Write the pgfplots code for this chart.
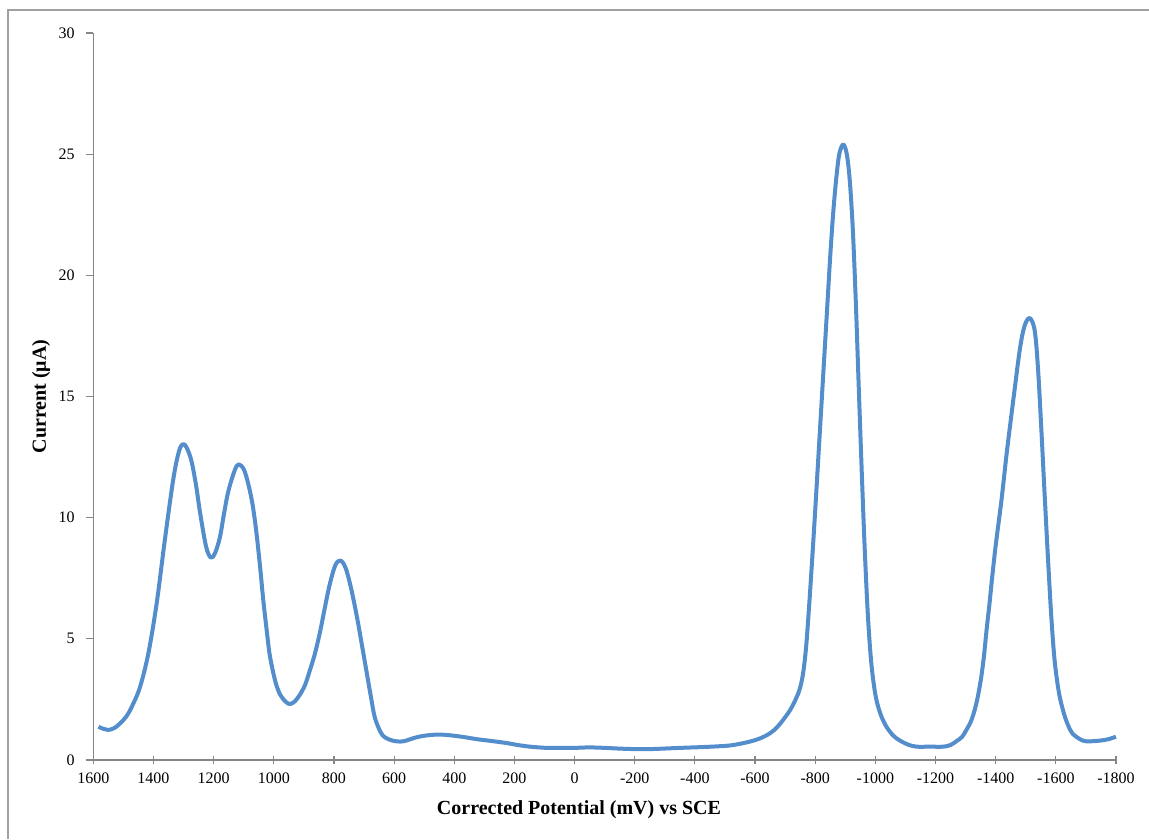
\documentclass[border=0pt]{standalone}
\usepackage{pgfplots}
\pgfplotsset{compat=1.18}
\usepackage{fontspec}
\setmainfont{Liberation Serif}
\definecolor{curve}{RGB}{83,141,204}
\definecolor{axgray}{RGB}{134,134,134}
\definecolor{bordergray}{RGB}{160,160,160}
\begin{document}
\begin{tikzpicture}
\useasboundingbox (0pt,0pt) rectangle (861.75pt,629.25pt);
\draw[bordergray,line width=1.2pt] (6pt,0pt) -- (6pt,621.75pt) -- (861.75pt,621.75pt);
\begin{axis}[
  at={(70pt,59.25pt)}, anchor=south west,
  scale only axis, width=767pt, height=545.25pt,
  xmin=-1800, xmax=1600, x dir=reverse,
  ymin=0, ymax=30,
  xtick={-1800,-1600,...,1600},
  ytick={0,5,...,30},
  axis x line*=bottom, axis y line*=left,
  axis line style={axgray, line width=0.9pt},
  x axis line style={-}, y axis line style={-},
  tick style={axgray, line width=0.9pt},
  xtick align=center, ytick align=outside,
  major tick length=5.5pt,
  /pgf/number format/assume math mode=true,
  /pgf/number format/1000 sep={},
  tick label style={font=\fontsize{12}{14}\selectfont},
  xticklabel style={yshift=-3pt},
  yticklabel style={xshift=-5pt},
  clip=false,
]
\addplot[curve, line width=3pt, smooth, tension=0.55, line join=round] coordinates {
(1583,1.37)(1565,1.28)(1550,1.24)(1530,1.32)(1511,1.51)(1490,1.8)(1472,2.2)
(1445,3.0)(1417,4.4)(1389,6.5)(1362,9.1)(1334,11.6)(1315,12.75)(1301,13.04)
(1288,12.85)(1273,12.3)(1258,11.3)(1245,10.2)(1225,8.8)(1209,8.35)(1195,8.55)
(1179,9.2)(1165,10.2)(1151,11.1)(1130,11.95)(1117,12.2)(1100,12.0)(1085,11.4)
(1070,10.5)(1057,9.3)(1045,7.9)(1035,6.6)(1024,5.4)(1013,4.3)(995,3.25)(979,2.7)
(960,2.4)(946,2.31)(930,2.42)(913,2.7)(896,3.1)(880,3.7)(863,4.4)(846,5.3)
(830,6.3)(813,7.3)(795,8.05)(778,8.23)(762,7.95)(747,7.3)(733,6.5)(719,5.6)
(705,4.6)(691,3.6)(677,2.6)(664,1.75)(645,1.15)(630,0.93)(605,0.8)(580,0.76)
(560,0.8)(536,0.9)(510,0.98)(480,1.03)(450,1.05)(414,1.02)(370,0.95)(325,0.86)
(280,0.79)(226,0.7)(190,0.62)(148,0.55)(93,0.5)(50,0.5)(0,0.5)(-49,0.52)
(-100,0.5)(-150,0.47)(-200,0.45)(-250,0.45)(-294,0.47)(-350,0.5)(-417,0.53)
(-470,0.56)(-517,0.6)(-550,0.67)(-580,0.75)(-610,0.86)(-640,1.03)(-665,1.25)
(-690,1.6)(-716,2.05)(-735,2.5)(-749,2.95)(-760,3.6)(-770,4.7)(-780,6.4)
(-790,8.3)(-800,10.3)(-810,12.4)(-820,14.5)(-830,16.6)(-840,18.7)(-850,20.8)
(-860,22.6)(-870,24.0)(-880,25.0)(-893,25.4)(-905,25.0)(-915,23.9)(-925,21.9)
(-935,18.9)(-945,15.3)(-955,11.8)(-965,8.6)(-975,6.0)(-985,4.2)(-995,3.1)
(-1005,2.4)(-1020,1.8)(-1038,1.35)(-1060,1.0)(-1082,0.8)(-1110,0.63)
(-1137,0.55)(-1180,0.55)(-1226,0.55)(-1250,0.62)(-1270,0.78)(-1288,0.95)
(-1303,1.25)(-1318,1.6)(-1331,2.1)(-1342,2.7)(-1353,3.5)(-1362,4.4)(-1370,5.4)
(-1379,6.4)(-1388,7.5)(-1400,8.85)(-1420,10.8)(-1437,12.7)(-1459,14.9)
(-1481,17.0)(-1497,17.95)(-1514,18.23)(-1530,17.7)(-1541,16.1)(-1552,13.6)
(-1563,10.9)(-1574,8.3)(-1585,5.9)(-1596,4.1)(-1610,2.8)(-1625,2.0)(-1640,1.45)
(-1655,1.1)(-1680,0.86)(-1702,0.77)(-1747,0.8)(-1775,0.86)(-1800,0.96)
};
\end{axis}
\node[font=\fontsize{15}{18}\selectfont\bfseries] at (434.25pt,21.75pt) {Corrected Potential (mV) vs SCE};
\node[font=\fontsize{15}{18}\selectfont\bfseries, rotate=90] at (30.75pt,331.9pt) {Current (μA)};
\end{tikzpicture}
\end{document}
